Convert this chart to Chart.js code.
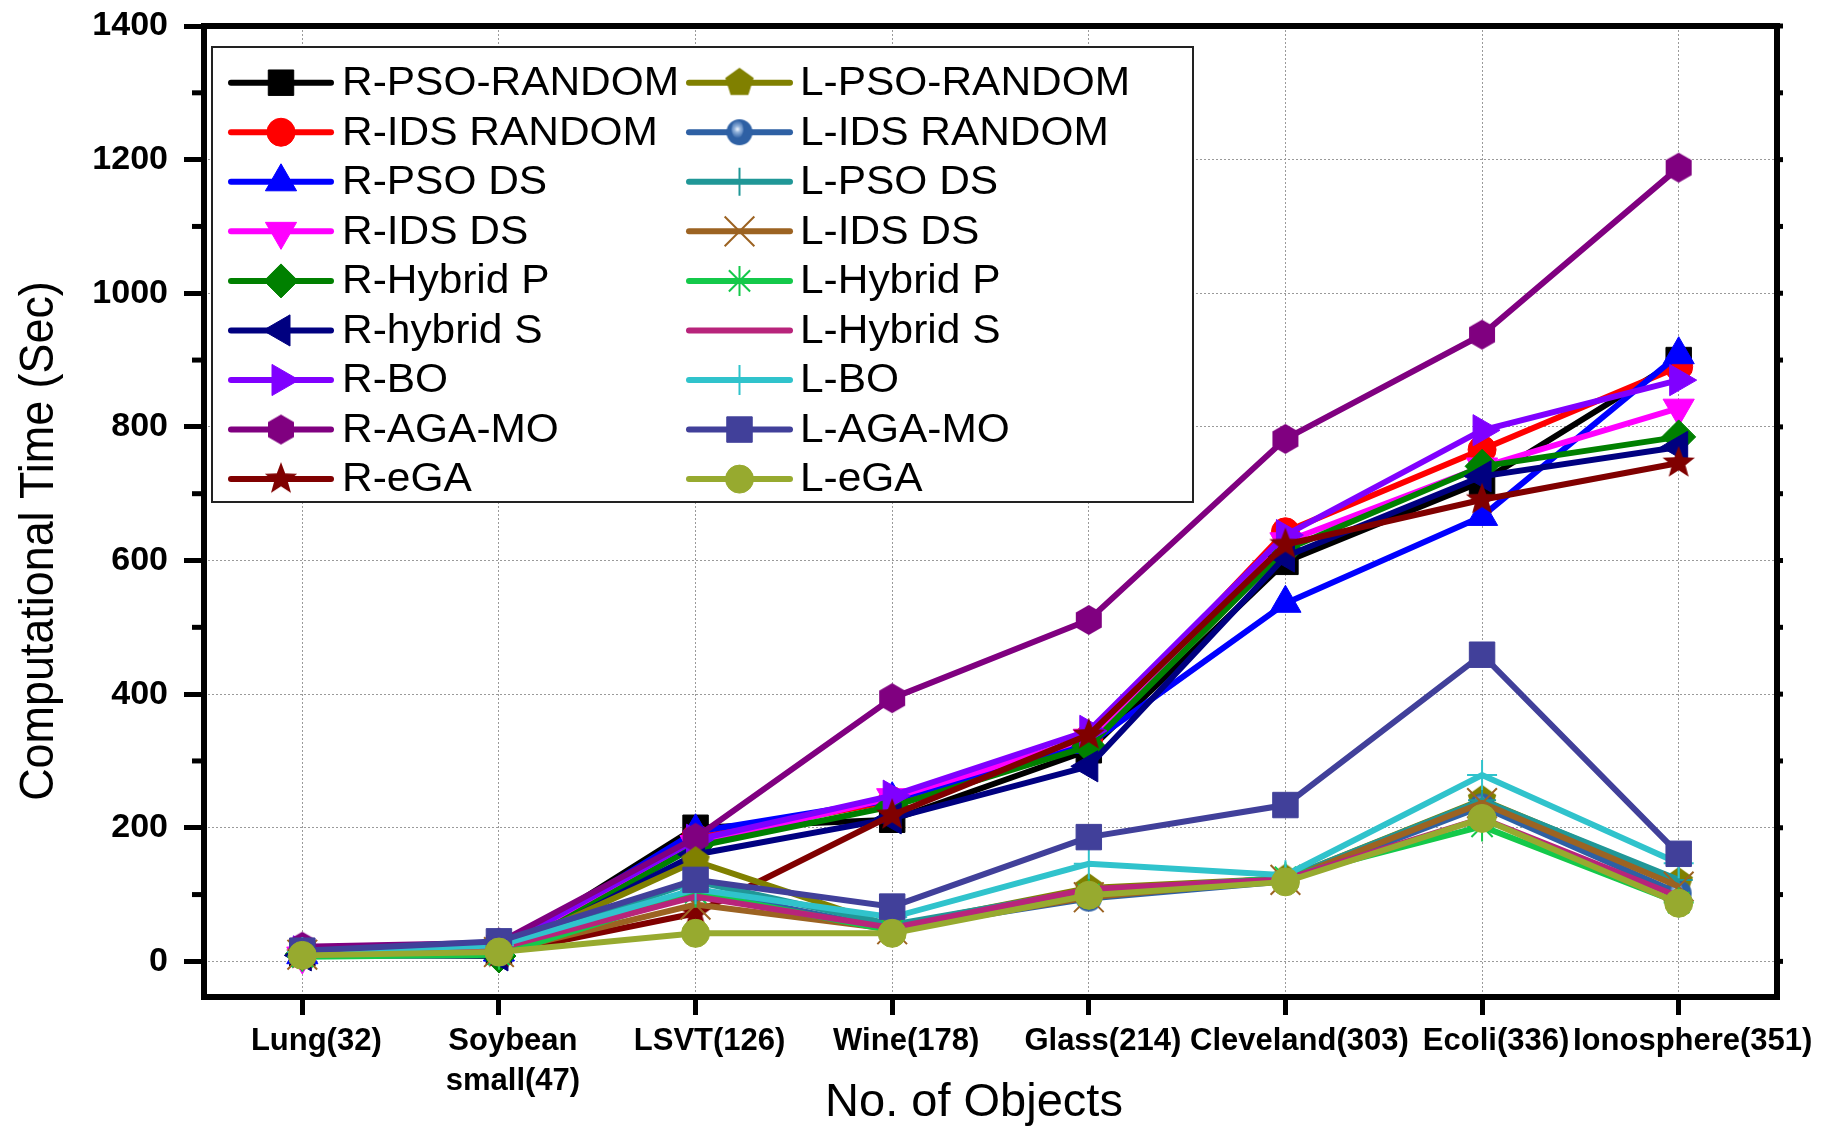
<!DOCTYPE html>
<html>
<head>
<meta charset="utf-8">
<title>Computational Time</title>
<script src="https://cdn.jsdelivr.net/npm/chart.js@4.4.1/dist/chart.umd.min.js"></script>
<style>
    html, body { margin: 0; padding: 0; background: #ffffff; }
    #wrap { width: 1827px; height: 1128px; }
</style>
</head>
<body>
<div id="wrap"><canvas id="timeChart" width="1827" height="1128"></canvas></div>
<script>
// data (seconds)
const categories = ['Lung(32)', ['Soybean', 'small(47)'], 'LSVT(126)', 'Wine(178)', 'Glass(214)',
    'Cleveland(303)', 'Ecoli(336)', 'Ionosphere(351)'];
const yTickValues = [0, 100, 200, 300, 400, 500, 600, 700, 800, 900, 1000, 1100, 1200, 1300, 1400];

const rPsoRandom = [12, 15, 200, 212, 316, 598, 718, 900];
const rIdsRandom = [14, 18, 185, 240, 334, 643, 766, 890];
const rPsoDs     = [10, 14, 194, 242, 325, 536, 666, 908];
const rIdsDs     = [8, 10, 175, 245, 334, 628, 740, 828];
const rHybridP   = [11, 8, 172, 232, 322, 616, 741, 785];
const rHybridS   = [9, 9, 160, 214, 292, 606, 726, 770];
const rBo        = [15, 20, 182, 248, 345, 638, 795, 870];
const rAgaMo     = [22, 28, 185, 394, 511, 782, 938, 1188];
const rEga       = [10, 12, 72, 219, 339, 624, 691, 746];
const lPsoRandom = [12, 16, 150, 52, 110, 124, 242, 119];
const lIdsRandom = [8, 12, 108, 48, 94, 120, 232, 102];
const lPsoDs     = [12, 18, 120, 55, 106, 124, 241, 122];
const lIdsDs     = [10, 14, 85, 48, 96, 122, 237, 112];
const lHybridP   = [7, 10, 103, 46, 100, 126, 202, 88];
const lHybridS   = [12, 20, 97, 50, 108, 123, 214, 97];
const lBo        = [14, 24, 108, 66, 146, 129, 279, 147];
const lAgaMo     = [16, 30, 122, 82, 186, 234, 459, 161];
const lEga       = [9, 14, 42, 42, 99, 119, 214, 87];

const seriesNames = ['R-PSO-RANDOM', 'R-IDS RANDOM', 'R-PSO DS', 'R-IDS DS', 'R-Hybrid P', 'R-hybrid S',
    'R-BO', 'R-AGA-MO', 'R-eGA', 'L-PSO-RANDOM', 'L-IDS RANDOM', 'L-PSO DS', 'L-IDS DS', 'L-Hybrid P',
    'L-Hybrid S', 'L-BO', 'L-AGA-MO', 'L-eGA'];
const seriesValues = [rPsoRandom, rIdsRandom, rPsoDs, rIdsDs, rHybridP, rHybridS, rBo, rAgaMo, rEga,
    lPsoRandom, lIdsRandom, lPsoDs, lIdsDs, lHybridP, lHybridS, lBo, lAgaMo, lEga];
const seriesColors = ['#000000', '#ff0000', '#0000ff', '#ff00ff', '#008000', '#000080', '#8000ff', '#800080',
    '#800000', '#808000', '#2e60a4', '#209797', '#9c6322', '#14c94a', '#b8247b', '#30c3cc', '#41409a', '#97aa2f'];

const FONT = "'Liberation Sans', Arial, sans-serif";
Chart.defaults.font.family = FONT;
Chart.defaults.color = '#000';

// --- custom marker shapes (hexagon, pentagon, 5-point star, shaded ball) ---
function makeMarker(r, color, pathFn) {
    const c = document.createElement('canvas');
    c.width = c.height = Math.ceil(2 * r + 2);
    const g = c.getContext('2d');
    g.translate(c.width / 2, c.height / 2);
    g.fillStyle = color;
    g.beginPath();
    pathFn(g, r);
    g.closePath();
    g.fill();
    return c;
}
function polygon(n) {
    return (g, r) => {
        for (let i = 0; i < n; i++) {
            const a = -Math.PI / 2 + i * 2 * Math.PI / n;
            g.lineTo(r * Math.cos(a), r * Math.sin(a));
        }
    };
}
function starPath(g, r) {
    for (let i = 0; i < 10; i++) {
        const a = -Math.PI / 2 + i * Math.PI / 5;
        const rr = i % 2 === 0 ? r : r * 0.42;
        g.lineTo(rr * Math.cos(a), rr * Math.sin(a));
    }
}
function makeBall(r, color) {
    const c = document.createElement('canvas');
    c.width = c.height = Math.ceil(2 * r + 2);
    const g = c.getContext('2d');
    const m = c.width / 2;
    const grad = g.createRadialGradient(m - 2, m - 3, 0, m - 2, m - 3, r * 0.7);
    grad.addColorStop(0, '#f4f8ff');
    grad.addColorStop(0.35, '#8fb0da');
    grad.addColorStop(1, color);
    g.fillStyle = color;
    g.beginPath(); g.arc(m, m, r, 0, Math.PI * 2); g.fill();
    g.fillStyle = grad;
    g.beginPath(); g.ellipse(m - 2, m - 3, r * 0.45, r * 0.7, 0, 0, Math.PI * 2); g.fill();
    return c;
}

// marker style per series: [pointStyle, radius, rotation, borderWidth]
const markerStyles = [
    ['rect', 18, 0, 1],
    ['circle', 14, 0, 1],
    ['triangle', 18, 0, 1],
    ['triangle', 18, 180, 1],
    ['rectRot', 17, 0, 1],
    ['triangle', 18, 270, 1],
    ['triangle', 18, 90, 1],
    [makeMarker(15, seriesColors[7], polygon(6)), 15, 0, 0],
    [makeMarker(17, seriesColors[8], starPath), 17, 0, 0],
    [makeMarker(15, seriesColors[9], polygon(5)), 15, 0, 0],
    [makeBall(13, seriesColors[10]), 13, 0, 0],
    ['cross', 14, 0, 2],
    ['crossRot', 21, 0, 2],
    ['star', 15, 0, 2],
    ['line', 0, 0, 0],
    ['cross', 15, 0, 2],
    ['rect', 18, 0, 1],
    ['circle', 14, 0, 1]
];

const datasets = seriesNames.map((name, i) => ({
    label: name,
    data: seriesValues[i],
    borderColor: seriesColors[i],
    backgroundColor: seriesColors[i],
    borderWidth: 6,
    tension: 0,
    pointStyle: markerStyles[i][0],
    pointRadius: markerStyles[i][1],
    pointRotation: markerStyles[i][2],
    pointBorderWidth: markerStyles[i][3],
    pointBorderColor: seriesColors[i],
    pointBackgroundColor: seriesColors[i],
    order: seriesNames.length - i // later series drawn on top
}));

// thick frame + minor ticks
const framePlugin = {
    id: 'frame',
    afterDraw(chart) {
        const { ctx, chartArea: a, scales } = chart;
        ctx.save();
        ctx.strokeStyle = '#000';
        ctx.lineWidth = 5;
        yTickValues.forEach(v => {
            const y = scales.y.getPixelForValue(v);
            if (v % 200 !== 0) {
                ctx.beginPath(); ctx.moveTo(a.left - 12, y); ctx.lineTo(a.left, y); ctx.stroke();
            }
            ctx.beginPath(); ctx.moveTo(a.right, y); ctx.lineTo(a.right + 6, y); ctx.stroke();
        });
        ctx.lineWidth = 6;
        ctx.strokeRect(a.left, a.top, a.right - a.left, a.bottom - a.top);
        ctx.restore();
    }
};

const titlePlugin = {
    id: 'axisTitles',
    afterDraw(chart) {
        const ctx = chart.ctx;
        ctx.save();
        ctx.fillStyle = '#000';
        ctx.textAlign = 'center';
        ctx.textBaseline = 'alphabetic';
        ctx.font = `47px ${FONT}`;
        ctx.fillText('No. of Objects', 974, 1116);
        ctx.translate(53, 541);
        ctx.rotate(-Math.PI / 2);
        ctx.scale(0.935, 1);
        ctx.font = `48px ${FONT}`;
        ctx.fillText('Computational Time (Sec)', 0, 0);
        ctx.restore();
    }
};

// two-column legend inside the plot
const legendPlugin = {
    id: 'boxLegend',
    afterDraw(chart) {
        const ctx = chart.ctx;
        const box = { left: 212, top: 47, right: 1193, bottom: 502 };
        const rows = 9, rowTop = 82.7, rowStep = 49.55;
        const cols = [{ x1: 231, x2: 331, tx: 342 }, { x1: 689, x2: 790, tx: 800 }];
        ctx.save();
        ctx.fillStyle = '#fff';
        ctx.fillRect(box.left, box.top, box.right - box.left, box.bottom - box.top);
        ctx.strokeStyle = '#222';
        ctx.lineWidth = 2;
        ctx.strokeRect(box.left, box.top, box.right - box.left, box.bottom - box.top);
        chart.data.datasets.forEach((ds, i) => {
            const col = cols[i < rows ? 0 : 1];
            const y = rowTop + (i % rows) * rowStep;
            ctx.strokeStyle = ds.borderColor;
            ctx.lineWidth = ds.borderWidth;
            ctx.lineCap = 'round';
            ctx.beginPath(); ctx.moveTo(col.x1, y); ctx.lineTo(col.x2, y); ctx.stroke();
            if (ds.pointRadius > 0 && Chart.helpers && Chart.helpers.drawPoint) {
                ctx.fillStyle = ds.pointBackgroundColor;
                ctx.strokeStyle = ds.pointBorderColor;
                ctx.lineWidth = ds.pointBorderWidth;
                ctx.lineCap = 'butt';
                Chart.helpers.drawPoint(ctx, {
                    pointStyle: ds.pointStyle,
                    radius: ds.pointRadius,
                    rotation: ds.pointRotation,
                    borderWidth: ds.pointBorderWidth
                }, (col.x1 + col.x2) / 2, y);
            }
            // label text, a touch wider than the plain font
            ctx.save();
            ctx.translate(col.tx, y + 1);
            ctx.scale(1.035, 1);
            ctx.font = `41px ${FONT}`;
            ctx.textBaseline = 'middle';
            ctx.textAlign = 'left';
            ctx.fillStyle = '#000';
            ctx.fillText(ds.label, 0, 0);
            ctx.restore();
        });
        ctx.restore();
    }
};

new Chart(document.getElementById('timeChart'), {
    type: 'line',
    data: { labels: categories, datasets: datasets },
    options: {
        responsive: false,
        animation: false,
        devicePixelRatio: 1,
        layout: { autoPadding: false, padding: { left: 0, top: 26, right: 50, bottom: 0 } },
        plugins: { legend: { display: false }, tooltip: { enabled: false } },
        scales: {
            x: {
                type: 'category',
                offset: true,
                afterFit(scale) {
                    scale.height = 131;
                    scale.paddingLeft = 0;
                    scale.paddingRight = 0;
                },
                border: { display: false, dash: [2, 2] },
                grid: { offset: false, color: '#9a9a9a', lineWidth: 1, tickColor: '#000', tickLength: 18, tickWidth: 5 },
                ticks: {
                    autoSkip: false, maxRotation: 0, minRotation: 0, padding: 6, color: '#000',
                    labelOffset: 14,
                    font: { size: 31, weight: 'bold', lineHeight: 1.3 }
                }
            },
            y: {
                type: 'linear',
                min: -53.3,
                max: 1400,
                afterFit(scale) {
                    scale.width = 204;
                    scale.paddingTop = 0;
                    scale.paddingBottom = 0;
                },
                afterBuildTicks(scale) { scale.ticks = yTickValues.map(v => ({ value: v })); },
                border: { display: false, dash: [2, 2] },
                grid: {
                    color: c => (c.tick && c.tick.value % 200 === 0) ? '#9a9a9a' : 'rgba(0,0,0,0)',
                    tickColor: c => (c.tick && c.tick.value % 200 === 0) ? '#000' : 'rgba(0,0,0,0)',
                    lineWidth: 1, tickLength: 20, tickWidth: 5
                },
                ticks: {
                    autoSkip: false, padding: 16, color: '#000',
                    font: { size: 34, weight: 'bold' },
                    callback: v => (v % 200 === 0 ? String(v) : '')
                }
            }
        }
    },
    plugins: [framePlugin, titlePlugin, legendPlugin]
});
</script>
</body>
</html>
